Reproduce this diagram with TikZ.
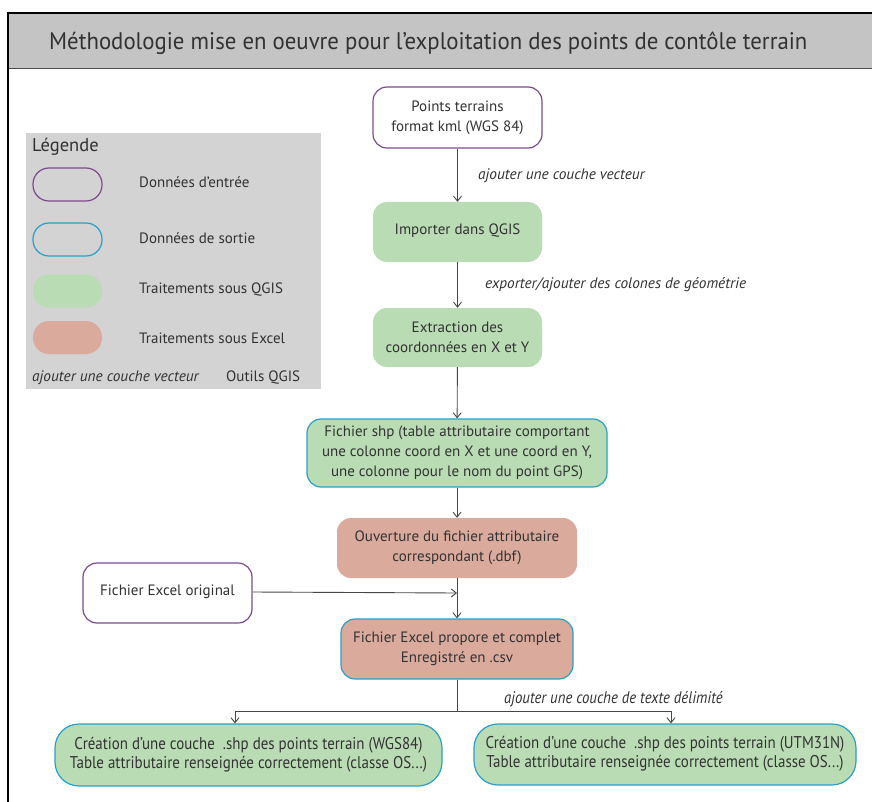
\documentclass[tikz,border=0pt]{standalone}
\usepackage{fontspec}
\setmainfont{PT Sans}
\newfontfamily\titrefont{PT Sans}[FakeStretch=0.95]
\newfontfamily\etroit{PT Sans}[FakeStretch=0.88]
\usetikzlibrary{arrows.meta}
\definecolor{purp}{RGB}{125,75,140}
\definecolor{bleu}{RGB}{40,160,200}
\definecolor{vert}{RGB}{186,220,180}
\definecolor{saumon}{RGB}{218,170,156}
\definecolor{legfond}{RGB}{211,211,211}
\definecolor{entete}{RGB}{196,196,196}
\definecolor{texte}{RGB}{50,50,50}
\tikzset{
  box/.style={rounded corners=14pt, align=center, text=texte, inner sep=0pt,
    font=\fontsize{15}{20}\selectfont},
  entree/.style={box, draw=purp, line width=1.2pt, fill=white},
  qgis/.style={box, fill=vert},
  excel/.style={box, fill=saumon},
  sortie/.style={draw=bleu, line width=1.2pt},
  outil/.style={anchor=west, inner sep=0pt, text=texte,
    font=\fontsize{15.3}{17}\selectfont\itshape},
  legtxt/.style={anchor=west, inner sep=0pt, text=texte,
    font=\fontsize{15}{18}\selectfont},
  legbox/.style={rounded corners=16pt, minimum width=69pt, minimum height=33pt, inner sep=0pt},
  fleche/.style={-{Straight Barb[length=5pt,width=8pt]}, texte!90!white, line width=0.9pt},
  trait/.style={texte!90!white, line width=0.9pt},
}
\begin{document}
\begin{tikzpicture}[x=1pt, y=-1pt]
    \useasboundingbox (0,0) rectangle (872,802);
    % header
    \fill[entete] (8,13) rectangle (872,68);
    \draw[gray!60!black, line width=0.6pt] (8,68) -- (872,68);
    \draw[line width=2.6pt] (8,802) -- (8,13) -- (872,13);
    \node[anchor=base west, inner sep=0pt, text=texte, font=\titrefont\fontsize{24}{28}\selectfont] (titre) at (49,50)
        {Méthodologie mise en oeuvre pour l’exploitation des points de contôle terrain};
    % legend
    \fill[legfond] (26,133) rectangle (321,389);
    \node[legtxt, font=\fontsize{18.5}{20}\selectfont] (leg) at (32,147) {Légende};
    \node[legbox, draw=purp, line width=1.2pt] (l1) at (67.5,184.5) {};
    \node[legtxt] (t1) at (139,182) {Données d’entrée};
    \node[legbox, draw=bleu, line width=1.2pt] (l2) at (67.5,239.5) {};
    \node[legtxt] (t2) at (139,238) {Données de sortie};
    \node[legbox, fill=vert] (l3) at (67.5,291) {};
    \node[legtxt] (t3) at (139,290) {Traitements sous QGIS};
    \node[legbox, fill=saumon] (l4) at (67.5,337.5) {};
    \node[legtxt] (t4) at (139,338) {Traitements sous Excel};
    \node[outil] (t5) at (32,378) {ajouter une couche vecteur};
    \node[legtxt] (t6) at (226,378) {Outils QGIS};
    % QGIS chain
    \node[entree, minimum width=169pt, minimum height=61pt] (pts) at (457.5,117.5) {Points terrains\\format kml (WGS 84)};
    \node[qgis, minimum width=169pt, minimum height=60pt] (imp) at (457.5,232) {\raisebox{5pt}{Importer dans QGIS}};
    \node[qgis, minimum width=169pt, minimum height=59pt] (ext) at (457.5,337.5) {Extraction des\\coordonnées en X et Y};
    \node[qgis, sortie, minimum width=300pt, minimum height=68pt] (shp) at (457,453)
        {Fichier shp (table attributaire comportant\\une colonne coord en X et une coord en Y,\\une colonne pour le nom du point GPS)};
    \draw[fleche] (pts) -- (imp);
    \draw[fleche] (imp) -- (ext);
    \draw[fleche] (ext) -- (shp);
    \node[outil] (a1) at (478,176) {ajouter une couche vecteur};
    \node[outil] (a2) at (485,285) {exporter/ajouter des colones de géométrie};
    % Excel
    \node[excel, minimum width=240pt, minimum height=60pt] (ouv) at (457,548) {Ouverture du fichier attributaire\\correspondant (.dbf)};
    \node[entree, minimum width=169pt, minimum height=60pt] (xls) at (167.5,593) {\raisebox{5pt}{Fichier Excel original}};
    \node[excel, sortie, minimum width=232pt, minimum height=60pt] (csv) at (457,649) {Fichier Excel propore et complet\\Enregistré en .csv};
    \coordinate (jn) at (ouv.south |- xls.east);
    \draw[fleche] (shp) -- (ouv);
    \draw[fleche] (ouv) -- (csv);
    \draw[fleche] (xls.east) ++(0,-1) -- (jn);
    % outputs
    \node[qgis, sortie, rounded corners=24pt, minimum width=387pt, minimum height=62pt,
        font=\etroit\fontsize{17}{19}\selectfont] (wgs) at (248.5,755)
        {\raisebox{4pt}{\begin{tabular}{@{}c@{}}Création d’une couche~ .shp des points terrain (WGS84)\\Table attributaire renseignée correctement (classe OS...)\end{tabular}}};
    \node[qgis, sortie, rounded corners=24pt, minimum width=382pt, minimum height=61pt,
        font=\etroit\fontsize{17}{19}\selectfont] (utm) at (665,754.5)
        {\begin{tabular}{@{}c@{}}Création d’une couche~ .shp des points terrain (UTM31N)\\Table attributaire renseignée correctement (classe OS...)\end{tabular}};
    \coordinate (sp) at (csv.south |- 0,711);
    \coordinate (bg) at (235,711);
    \coordinate (bd) at (671,711);
    \draw[trait] (csv) -- (sp);
    \draw[trait] (bg) -- (bd);
    \draw[fleche] (bg) -- (bg |- wgs.north);
    \draw[fleche] (bd) -- (bd |- utm.north);
    \node[outil, font=\etroit\fontsize{16.8}{18}\selectfont\itshape] (a3) at (504,699) {ajouter une couche de texte délimité};
\end{tikzpicture}
\end{document}
